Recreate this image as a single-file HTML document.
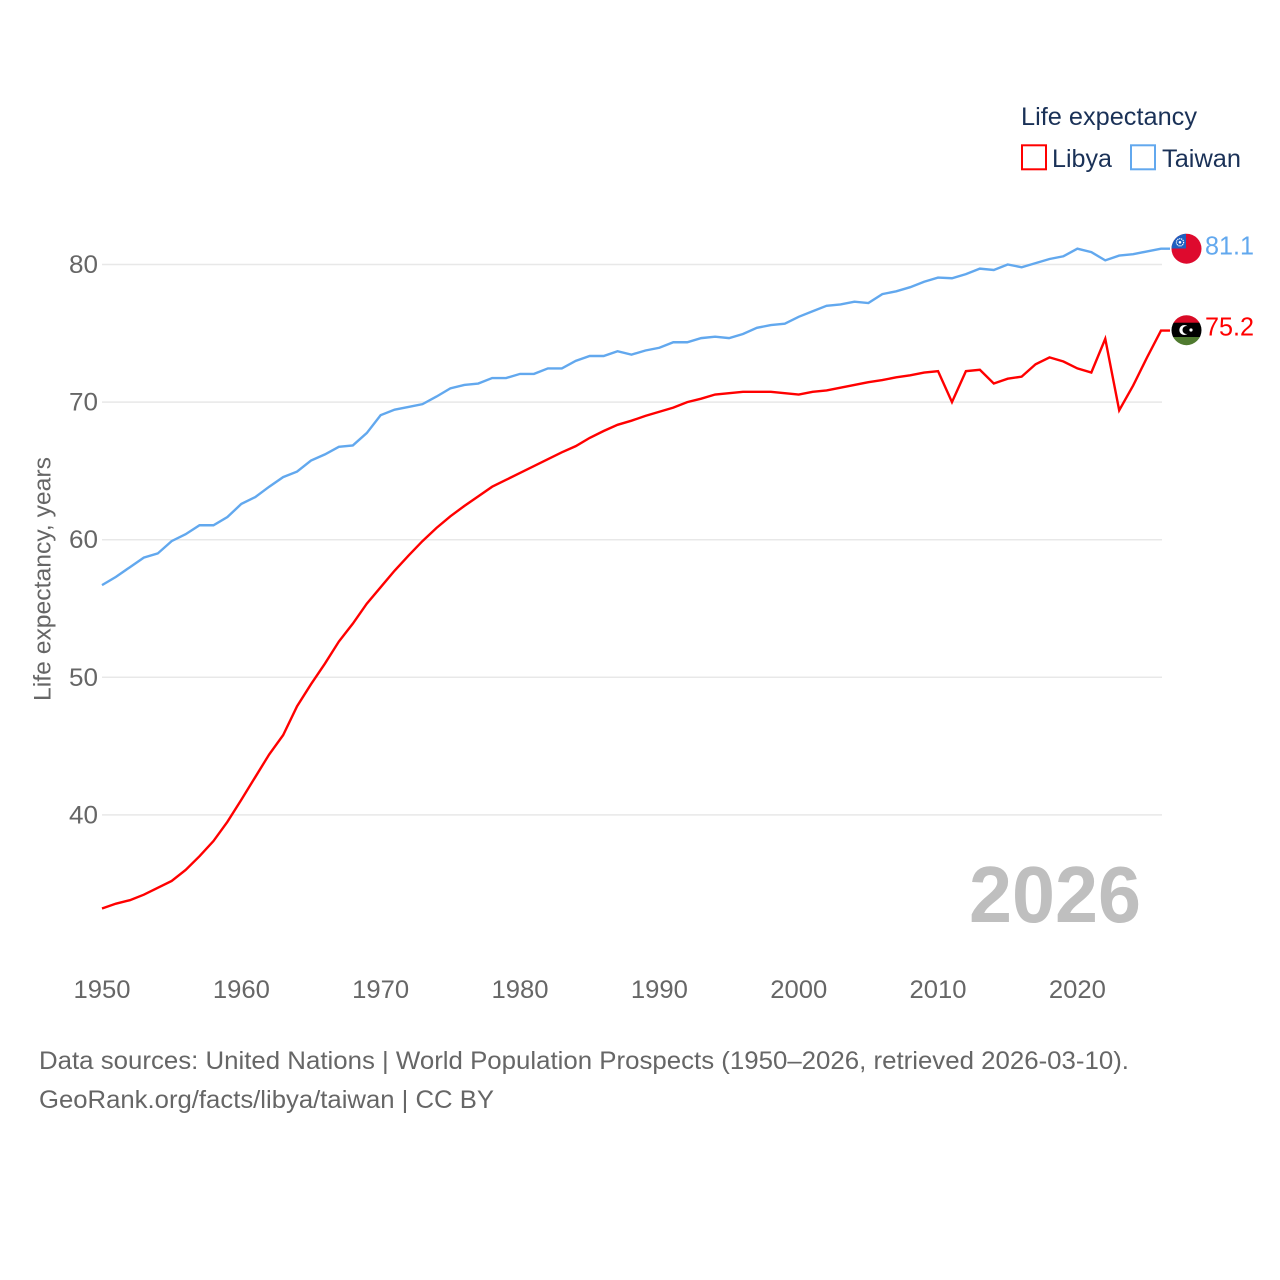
<!DOCTYPE html>
<html lang="en">
<head>
<meta charset="utf-8">
<title>Life expectancy: Libya and Taiwan</title>
<style>
html,body{margin:0;padding:0;background:#fff;width:1280px;height:1280px;overflow:hidden}
svg{display:block}
text{font-family:"Liberation Sans",sans-serif}
</style>
</head>
<body>
<svg id="chart" xmlns="http://www.w3.org/2000/svg" width="1280" height="1280" viewBox="0 0 1280 1280">
  <rect x="0" y="0" width="1280" height="1280" fill="#fff"/>
  <g id="grid"></g>
  <g id="yticks"></g>
  <g id="xticks"></g>
  <text transform="translate(50.5,701) rotate(-90)" font-size="24" fill="#666" textLength="244" lengthAdjust="spacingAndGlyphs">Life expectancy, years</text>
  <text x="969" y="922" font-size="80" font-weight="700" fill="#bfbfbf" textLength="172" lengthAdjust="spacingAndGlyphs">2026</text>
  <g id="series"></g>
  <g>
    <text x="1021" y="125" font-size="25" fill="#1a3157" textLength="176" lengthAdjust="spacingAndGlyphs">Life expectancy</text>
    <g>
      <rect x="1022" y="145.3" width="24" height="24" fill="#fff" stroke="#ff0000" stroke-width="2"/>
      <text x="1052" y="167" font-size="25" fill="#1a3157" textLength="60" lengthAdjust="spacingAndGlyphs">Libya</text>
    </g>
    <g>
      <rect x="1131" y="145.3" width="24" height="24" fill="#fff" stroke="#62a8ee" stroke-width="2"/>
      <text x="1162" y="167" font-size="25" fill="#1a3157" textLength="79" lengthAdjust="spacingAndGlyphs">Taiwan</text>
    </g>
  </g>
  <defs>
    <clipPath id="clip-taiwan"><circle cx="1186.5" cy="248.7" r="15"/></clipPath>
    <clipPath id="clip-libya"><circle cx="1186.5" cy="330.2" r="15"/></clipPath>
  </defs>
  <g clip-path="url(#clip-taiwan)">
    <rect x="1170" y="232" width="33" height="33" fill="#de0a2e"/>
    <rect x="1170" y="232" width="16" height="16.5" fill="#1f5fbf"/>
    <circle cx="1180" cy="242.3" r="3.6" fill="none" stroke="#fff" stroke-width="1.2" stroke-dasharray="1.2 0.8"/>
    <circle cx="1180" cy="242.3" r="1.3" fill="#fff"/>
  </g>
  <g clip-path="url(#clip-libya)">
    <rect x="1170" y="314" width="33" height="9" fill="#d90b26"/>
    <rect x="1170" y="322.7" width="33" height="14.4" fill="#000"/>
    <rect x="1170" y="337" width="33" height="10" fill="#4f7a2f"/>
    <circle cx="1184.3" cy="330" r="5" fill="#fff"/>
    <circle cx="1186.5" cy="330" r="4" fill="#000"/>
    <circle cx="1191" cy="330" r="1.6" fill="#fff"/>
  </g>
  <text id="label-taiwan" x="1205" y="254.5" font-size="26" fill="#62a8ee" textLength="49" lengthAdjust="spacingAndGlyphs"></text>
  <text id="label-libya" x="1205" y="335.5" font-size="26" fill="#ff0000" textLength="49" lengthAdjust="spacingAndGlyphs"></text>
  <g>
    <text x="39" y="1069" font-size="25" fill="#666" textLength="1090" lengthAdjust="spacingAndGlyphs">Data sources: United Nations | World Population Prospects (1950–2026, retrieved 2026-03-10).</text>
    <text x="39" y="1108" font-size="25" fill="#666" textLength="455" lengthAdjust="spacingAndGlyphs">GeoRank.org/facts/libya/taiwan | CC BY</text>
  </g>
</svg>
<script>
const startYear = 1950;
const yTickValues = [40, 50, 60, 70, 80];
const xTickValues = [1950, 1960, 1970, 1980, 1990, 2000, 2010, 2020];
const libyaValues = [33.2,33.55,33.8,34.2,34.7,35.2,36.0,37.0,38.1,39.5,41.1,42.75,44.4,45.8,47.9,49.5,51.0,52.6,53.9,55.35,56.55,57.75,58.85,59.9,60.85,61.7,62.45,63.15,63.85,64.35,64.85,65.35,65.85,66.35,66.8,67.4,67.9,68.35,68.65,69.0,69.3,69.6,70.0,70.25,70.55,70.65,70.75,70.75,70.75,70.65,70.55,70.75,70.85,71.05,71.25,71.45,71.6,71.8,71.95,72.15,72.25,70.0,72.25,72.35,71.35,71.7,71.85,72.75,73.25,72.95,72.45,72.15,74.6,69.4,71.2,73.25,75.2];
const taiwanValues = [56.7,57.3,58.0,58.7,59.0,59.9,60.4,61.05,61.05,61.65,62.6,63.1,63.85,64.55,64.95,65.75,66.2,66.75,66.85,67.75,69.05,69.45,69.65,69.85,70.4,71.0,71.25,71.35,71.75,71.75,72.05,72.05,72.45,72.45,73.0,73.35,73.35,73.7,73.45,73.75,73.95,74.35,74.35,74.65,74.75,74.65,74.95,75.4,75.6,75.7,76.2,76.6,77.0,77.1,77.3,77.2,77.85,78.05,78.35,78.75,79.05,79.0,79.3,79.7,79.6,80.0,79.8,80.1,80.4,80.6,81.15,80.9,80.3,80.65,80.75,80.95,81.15];
const libyaLabel = "75.2";
const taiwanLabel = "81.1";

const NS = "http://www.w3.org/2000/svg";
function xScale(year) { return 102 + (year - 1950) * (1161 - 102) / 76; }
function yScale(value) { return 264.5 + (80 - value) * 13.76; }
function make(tag, attrs) {
  const el = document.createElementNS(NS, tag);
  for (const k in attrs) el.setAttribute(k, attrs[k]);
  return el;
}
const grid = document.getElementById("grid");
const yticks = document.getElementById("yticks");
const xticks = document.getElementById("xticks");
const series = document.getElementById("series");

yTickValues.forEach(function (v) {
  const line = make("line", {x1: 102, x2: 1162, y1: yScale(v), y2: yScale(v), stroke: "#e8e8e8", "stroke-width": 1.5});
  
  
  grid.appendChild(line);
  const t = make("text", {x: 98, y: yScale(v) + 8.5, "text-anchor": "end", "font-size": 25, fill: "#666", textLength: 29, lengthAdjust: "spacingAndGlyphs"});
  
  
  t.textContent = v;
  yticks.appendChild(t);
});
xTickValues.forEach(function (yr) {
  const t = make("text", {x: xScale(yr) - 28.5, y: 998, "font-size": 25, fill: "#666", textLength: 57, lengthAdjust: "spacingAndGlyphs"});
  
  
  t.textContent = yr;
  xticks.appendChild(t);
});
function pathFor(values) {
  const last = values[values.length - 1];
  return values.map(function (v, i) {
    return (i ? "L" : "M") + xScale(startYear + i).toFixed(2) + " " + yScale(v).toFixed(2);
  }).join(" ") + " H" + (xScale(startYear + values.length - 1) + 9).toFixed(2) + " V" + yScale(last).toFixed(2);
}
const taiwanLine = make("path", {d: pathFor(taiwanValues), fill: "none", stroke: "#62a8ee", "stroke-width": 2.4, "stroke-linejoin": "miter"});


series.appendChild(taiwanLine);
const libyaLine = make("path", {d: pathFor(libyaValues), fill: "none", stroke: "#ff0000", "stroke-width": 2.4, "stroke-linejoin": "miter"});


series.appendChild(libyaLine);
document.getElementById("label-taiwan").textContent = taiwanLabel;
document.getElementById("label-libya").textContent = libyaLabel;
</script>
</body>
</html>
